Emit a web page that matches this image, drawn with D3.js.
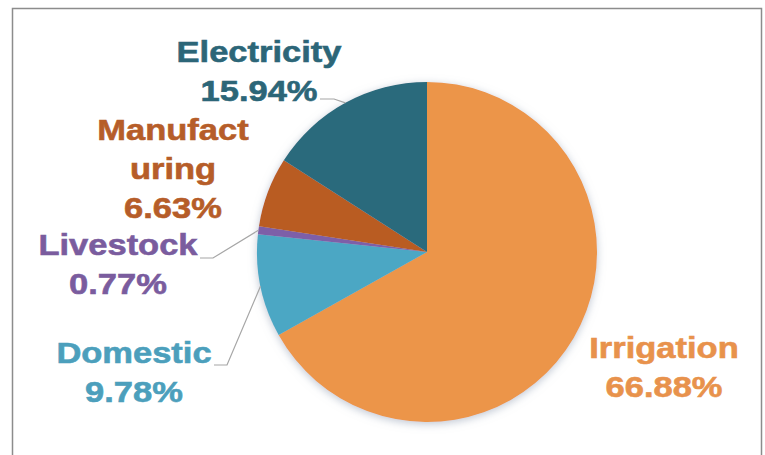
<!DOCTYPE html>
<html>
<head>
<meta charset="utf-8">
<script src="https://cdn.jsdelivr.net/npm/d3@7"></script>
<style>
  html, body { margin: 0; padding: 0; background: #fff; }
  svg { display: block; }
</style>
</head>
<body>
<div id="chart"></div>
<script>
// ── Water use share pie ────────────────────────────────────────
const categories = ['Irrigation', 'Domestic', 'Livestock', 'Manufacturing', 'Electricity'];
const shares     = [66.88, 9.78, 0.77, 6.63, 15.94];
const labelLines = [
  ['Irrigation', '66.88%'],
  ['Domestic', '9.78%'],
  ['Livestock', '0.77%'],
  ['Manufact', 'uring', '6.63%'],
  ['Electricity', '15.94%'],
];

const sliceColors = {
  Irrigation:    '#EC9548',
  Domestic:      '#4CA7C4',
  Livestock:     '#7D5EA8',
  Manufacturing: '#B95B22',
  Electricity:   '#2A6A7C',
};
const textColors = {
  Irrigation:    '#E8924C',
  Domestic:      '#4C9FBC',
  Livestock:     '#7A5C9E',
  Manufacturing: '#B65D29',
  Electricity:   '#2C6678',
};

// label block anchors (centre x, first baseline) and leader elbows
const labelPos = {
  Irrigation:    { x: 664, y: 358, leader: null },
  Domestic:      { x: 134, y: 363, leader: [[214, 365], [227, 365]] },
  Livestock:     { x: 118, y: 255, leader: [[200, 258], [213, 258]] },
  Manufacturing: { x: 173, y: 140, leader: null },
  Electricity:   { x: 259, y: 62,  leader: [[320, 99], [334, 99]] },
};

const W = 765, H = 455;
const cx = 427, cy = 252, R = 170;
const lineH = 39;

const svg = d3.select('#chart').append('svg')
  .attr('width', W).attr('height', H);

const defs = svg.append('defs');
const f = defs.append('filter').attr('id', 'shadow')
  .attr('x', '-20%').attr('y', '-20%').attr('width', '140%').attr('height', '140%');
f.append('feDropShadow')
  .attr('dx', 0).attr('dy', 2).attr('stdDeviation', 4)
  .attr('flood-color', '#8a98ad').attr('flood-opacity', 0.55);

// frame
svg.append('rect')
  .attr('x', 12.5).attr('y', 8.5).attr('width', 749).attr('height', 460)
  .attr('fill', 'none').attr('stroke', '#8c8c8c').attr('stroke-width', 1.5);

const data = categories.map((c, i) => ({ name: c, value: shares[i], lines: labelLines[i] }));

const pie = d3.pie().value(d => d.value).sort(null);
const arcs = pie(data);
const arc = d3.arc().innerRadius(0).outerRadius(R);

const g = svg.append('g').attr('transform', `translate(${cx},${cy})`);

g.append('g').attr('filter', 'url(#shadow)')
  .selectAll('path')
  .data(arcs)
  .enter().append('path')
  .attr('d', arc)
  .attr('fill', d => sliceColors[d.data.name]);

// leader lines
arcs.forEach(a => {
  const p = labelPos[a.data.name];
  if (!p.leader) return;
  const mid = (a.startAngle + a.endAngle) / 2;
  const ex = cx + R * Math.sin(mid);
  const ey = cy - R * Math.cos(mid);
  const pts = [...p.leader, [ex, ey]];
  svg.append('path')
    .attr('d', d3.line()(pts))
    .attr('fill', 'none')
    .attr('stroke', '#a6a6a6')
    .attr('stroke-width', 1.2);
});

// labels
arcs.forEach(a => {
  const p = labelPos[a.data.name];
  const t = svg.append('g')
    .attr('transform', `translate(${p.x},${p.y}) scale(1.15,1)`);
  a.data.lines.forEach((ln, i) => {
    t.append('text')
      .attr('x', 0)
      .attr('y', i * lineH)
      .attr('text-anchor', 'middle')
      .attr('font-family', "'Liberation Sans', Arial, sans-serif")
      .attr('font-weight', 'bold')
      .attr('font-size', '30px')
      .attr('fill', textColors[a.data.name])
      .attr('stroke', textColors[a.data.name])
      .attr('stroke-width', 0.6)
      .text(ln);
  });
});
</script>
</body>
</html>
